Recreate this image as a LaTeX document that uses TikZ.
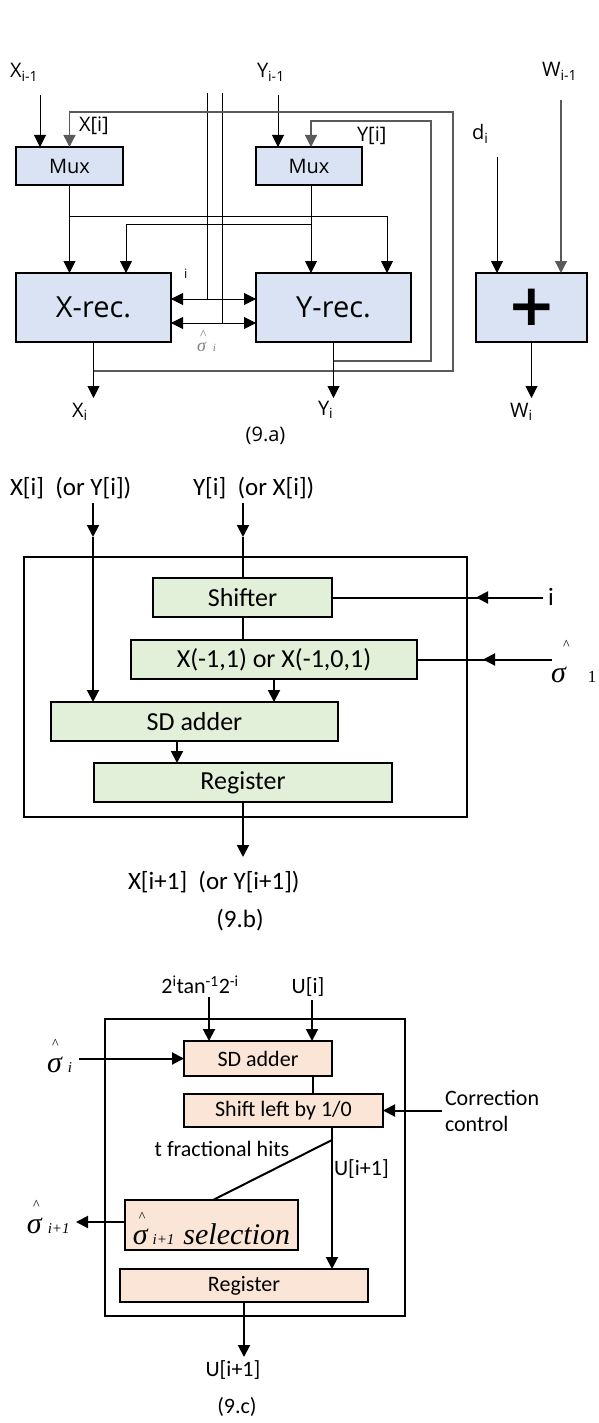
\documentclass[tikz,border=0pt]{standalone}
\usepackage{fontspec}
\setmainfont{Carlito}
\newfontfamily\osans{Open Sans}
\newfontfamily\dsans{DejaVu Sans}
\newfontfamily\tser{Liberation Serif}
\usetikzlibrary{arrows.meta}
\definecolor{boxA}{HTML}{DAE3F3}
\definecolor{boxB}{HTML}{E2F0D9}
\definecolor{boxC}{HTML}{FBE5D6}
\definecolor{wire}{HTML}{5A5A5A}
\definecolor{softgray}{HTML}{808080}
\newcommand{\fsz}[1]{\fontsize{#1}{#1}\selectfont}
% small caret set above a symbol: #1 = horizontal kern, #2 = raise
\newcommand{\hatover}[2]{\rlap{\kern#1\raisebox{#2}{\fsz{14}\upshape\textasciicircum}}}

\begin{document}
\begin{tikzpicture}[x=1pt,y=-1pt,
  every node/.style={inner sep=0pt,outer sep=0pt},
  tipA/.style={-{Triangle[width=12pt,length=12pt]}},
  tipAB/.style={{Triangle[width=12pt,length=12pt]}-{Triangle[width=12pt,length=12pt]}},
  thinw/.style={line width=1pt},
  greyw/.style={line width=1.3pt,draw=wire},
  fatw/.style={line width=2pt},
  blkA/.style={draw,line width=2pt,fill=boxA},
  blkB/.style={draw,line width=2pt,fill=boxB,font=\fsz{26}},
  blkC/.style={draw,line width=2pt,fill=boxC,font=\fsz{22}},
  lblA/.style={font=\osans\fsz{20}},
  lblB/.style={font=\fsz{25}},
  lblC/.style={font=\fsz{22}},
  sig/.style={font=\tser\itshape\fsz{30}},
]
\useasboundingbox (0,0) rectangle (598,1423);
\fill[white] (0,0) rectangle (598,1423);

% ---------------- (9.a) ----------------
\node[blkA,font=\osans\fsz{20},minimum width=107pt,minimum height=38pt] (muxL) at (69.5,166) {Mux};
\node[blkA,font=\osans\fsz{20},minimum width=106pt,minimum height=38pt] (muxR) at (309,166) {Mux};
\node[blkA,font=\osans\fsz{29},minimum width=155pt,minimum height=69pt] (xrec) at (93.5,307.5) {X-rec.};
\node[blkA,font=\osans\fsz{29},minimum width=155pt,minimum height=69pt] (yrec) at (333.5,307.5) {Y-rec.};
\node[blkA,font=\dsans\bfseries\fsz{58},minimum width=111pt,minimum height=69pt] (addW) at (531.5,307.5) {+};

\node[lblA,anchor=base west] (xprev) at (10,78) {X\textsubscript{i-1}};
\node[lblA,anchor=base west] (yprev) at (257,78) {Y\textsubscript{i-1}};
\node[lblA,anchor=base west] (wprev) at (542,77) {W\textsubscript{i-1}};
\node[lblA,anchor=base west] (dlab) at (472,140) {d\textsubscript{i}};
\node[lblA,anchor=base west] (xilab) at (79,132) {X[i]};
\node[lblA,anchor=base west] (yilab) at (357,142) {Y[i]};
\node[lblA,anchor=base west] (xout) at (72,417) {X\textsubscript{i}};
\node[lblA,anchor=base west] (yout) at (318,415) {Y\textsubscript{i}};
\node[lblA,anchor=base west] (wout) at (510,417) {W\textsubscript{i}};
\node[font=\osans\fsz{13},anchor=base west] (ilab) at (184,278) {i};
\node[font=\tser\itshape\fsz{18},text=softgray,anchor=base west] (sgA) at (197,351)
  {\hatover{3pt}{12pt}σ\hspace{7pt}{\fsz{11}i}};
\node[lblA] (capA) at (265.5,436) {(9.a)};

\coordinate (xin) at (40,95);
\coordinate (yin) at (278,95);
\draw[thinw,tipA] (xin) -- (xin |- muxL.north);
\draw[thinw,tipA] (yin) -- (yin |- muxR.north);

% control buses between the two recurrence units
\coordinate (bi) at (207,93);  \coordinate (ji) at (207,299);
\coordinate (bs) at (222,93);  \coordinate (js) at (222,323);
\draw[thinw] (bi) -- (ji);
\draw[thinw] (bs) -- (js);
\draw[thinw,tipAB] (xrec.east |- ji) -- (yrec.west |- ji);
\draw[thinw,tipAB] (xrec.east |- js) -- (yrec.west |- js);

% multiplexer outputs and cross connections
\draw[thinw,tipA] (muxL.south) -- (muxL.south |- xrec.north);
\coordinate (ymo) at (311,186);
\draw[thinw,tipA] (ymo) -- (ymo |- yrec.north);
\coordinate (bx) at (69.5,217); \coordinate (tY) at (387,217);
\draw[thinw,tipA] (bx) -- (tY) -- (tY |- yrec.north);
\coordinate (by) at (311,225); \coordinate (tX) at (126,225);
\draw[thinw,tipA] (by) -- (tX) -- (tX |- xrec.north);

% feedback loops
\coordinate (fxA) at (453,371); \coordinate (fxB) at (453,112); \coordinate (fxC) at (69.5,112);
\draw[greyw,tipA] (xrec.south |- fxA) -- (fxA) -- (fxB) -- (fxC) -- (fxC |- muxL.north);
\coordinate (fyA) at (431,361); \coordinate (fyB) at (431,121); \coordinate (fyC) at (311,121);
\draw[greyw,tipA] (yrec.south |- fyA) -- (fyA) -- (fyB) -- (fyC) -- (fyC |- muxR.north);

% outputs
\coordinate (oXa) at (93.5,398); \coordinate (oYa) at (333.5,398); \coordinate (oWa) at (531.5,398);
\draw[thinw,tipA] (xrec.south) -- (oXa);
\draw[thinw,tipA] (yrec.south) -- (oYa);
\draw[thinw,tipA] (addW.south) -- (oWa);

% adder inputs
\coordinate (dIn) at (497,157);
\coordinate (wIn) at (561,100);
\draw[thinw,tipA] (dIn) -- (dIn |- addW.north);
\draw[greyw,tipA] (wIn) -- (wIn |- addW.north);

% ---------------- (9.b) ----------------
\node[draw,line width=2pt,minimum width=443pt,minimum height=260pt] (frB) at (245.5,687) {};
\node[blkB,minimum width=179pt,minimum height=39pt] (shf) at (242.5,597.5) {Shifter};
\node[blkB,minimum width=286pt,minimum height=39pt] (mulB) at (274,659.5) {X(-1,1) or X(-1,0,1)};
\node[blkB,minimum width=287pt,minimum height=39pt] (sdB) at (194.5,721.5) {SD adder};
\node[blkB,minimum width=298pt,minimum height=39pt] (regB) at (243,782.5) {Register};

\node[lblB,anchor=base west] (lbX) at (10,495) {X[i]~~(or Y[i])};
\node[lblB,anchor=base west] (lbY) at (193,495) {Y[i]~~(or X[i])};
\node[lblB,anchor=base west] (lbO) at (128,889) {X[i+1]~~(or Y[i+1])};
\node[lblB] (capB) at (240,920) {(9.b)};
\node[lblB,anchor=base west] (iB) at (548,605) {i};
\node[sig,anchor=base west] (sgB) at (551,682) {\hatover{12pt}{33pt}σ\hspace{22pt}{\upshape\fsz{17}1}};

\coordinate (xa) at (93,503); \coordinate (xb) at (93,537);
\coordinate (ya) at (243,503); \coordinate (yb) at (243,537);
\draw[fatw,tipA] (xa) -- (xb);
\draw[fatw,tipA] (xb) -- (xb |- sdB.north);
\draw[fatw,tipA] (ya) -- (yb);
\draw[fatw] (yb) -- (yb |- shf.north);
\draw[fatw] (shf.south) -- (shf.south |- mulB.north);
\draw[fatw,tipA] (mulB.south) -- (mulB.south |- sdB.north);
\coordinate (sdo) at (177,0);
\draw[fatw,tipA] (sdB.south -| sdo) -- (regB.north -| sdo);
\coordinate (oB) at (243,857);
\draw[fatw,tipA] (regB.south) -- (oB);

\coordinate (iE) at (543,597.5); \coordinate (iT) at (476,597.5);
\draw[fatw] (shf.east) -- (iE);
\draw[fatw,tipA] (iE) -- (iT);
\coordinate (sE) at (552,659.5); \coordinate (sT) at (483,659.5);
\draw[fatw] (mulB.east) -- (sE);
\draw[fatw,tipA] (sE) -- (sT);

% ---------------- (9.c) ----------------
\node[draw,line width=2pt,minimum width=300pt,minimum height=297pt] (frC) at (255,1167.5) {};
\node[blkC,minimum width=148pt,minimum height=35pt] (sdC) at (258,1058.5) {SD adder};
\node[blkC,minimum width=199pt,minimum height=33pt] (shC) at (283.5,1110.5) {Shift left by 1/0};
\node[blkC,minimum width=173pt,minimum height=50pt,font=\tser\itshape\fsz{30},text height=38pt,text depth=0pt] (selC) at (211.5,1225)
  {\hatover{6pt}{23pt}σ\hspace{5pt}{\fsz{15}i+1}\hspace{9pt}selection};
\node[blkC,minimum width=248pt,minimum height=33pt] (regC) at (244,1285.5) {Register};

\node[lblC] (tanL) at (200,985) {2\textsuperscript{i}tan\textsuperscript{-1}2\textsuperscript{-i}};
\node[lblC] (uiL) at (308,987) {U[i]};
\node[font=\fontsize{22}{26}\selectfont,anchor=west,align=left] (ccL) at (445,1111) {Correction\\control};
\node[lblC] (tfL) at (222,1149) {t fractional hits};
\node[lblC,anchor=base west] (uNext) at (334,1175) {U[i+1]};
\node[lblC] (uOut) at (233,1370) {U[i+1]};
\node[lblC] (capC) at (237,1407) {(9.c)};
\node[sig,anchor=base west] (sgCi) at (47,1072) {\hatover{5pt}{24pt}σ\hspace{6pt}{\fsz{15}i}};
\node[sig,anchor=base west] (sgCo) at (27,1233) {\hatover{6pt}{24pt}σ\hspace{6pt}{\fsz{15}i+1}};

\coordinate (tA) at (209,997); \coordinate (uA) at (312,1000);
\draw[fatw,tipA] (tA) -- (tA |- sdC.north);
\draw[fatw,tipA] (uA) -- (uA |- sdC.north);
\coordinate (sgIn) at (79,1058.5);
\draw[fatw,tipA] (sgIn) -- (sdC.west);
\coordinate (mC) at (313,0);
\draw[fatw] (sdC.south -| mC) -- (shC.north -| mC);
\coordinate (ccE) at (442,1110.5);
\draw[fatw,tipA] (ccE) -- (shC.east);
\coordinate (vC) at (332,0);
\draw[fatw,tipA] (shC.south -| vC) -- (regC.north -| vC);
\coordinate (dg) at (332,1140); \coordinate (dgE) at (213,0);
\draw[fatw] (dg) -- (selC.north -| dgE);
\coordinate (sgOut) at (76,1222);
\draw[fatw,tipA] (selC.west |- sgOut) -- (sgOut);
\coordinate (oC) at (244,1357);
\draw[fatw,tipA] (regC.south) -- (oC);
\end{tikzpicture}
\end{document}
